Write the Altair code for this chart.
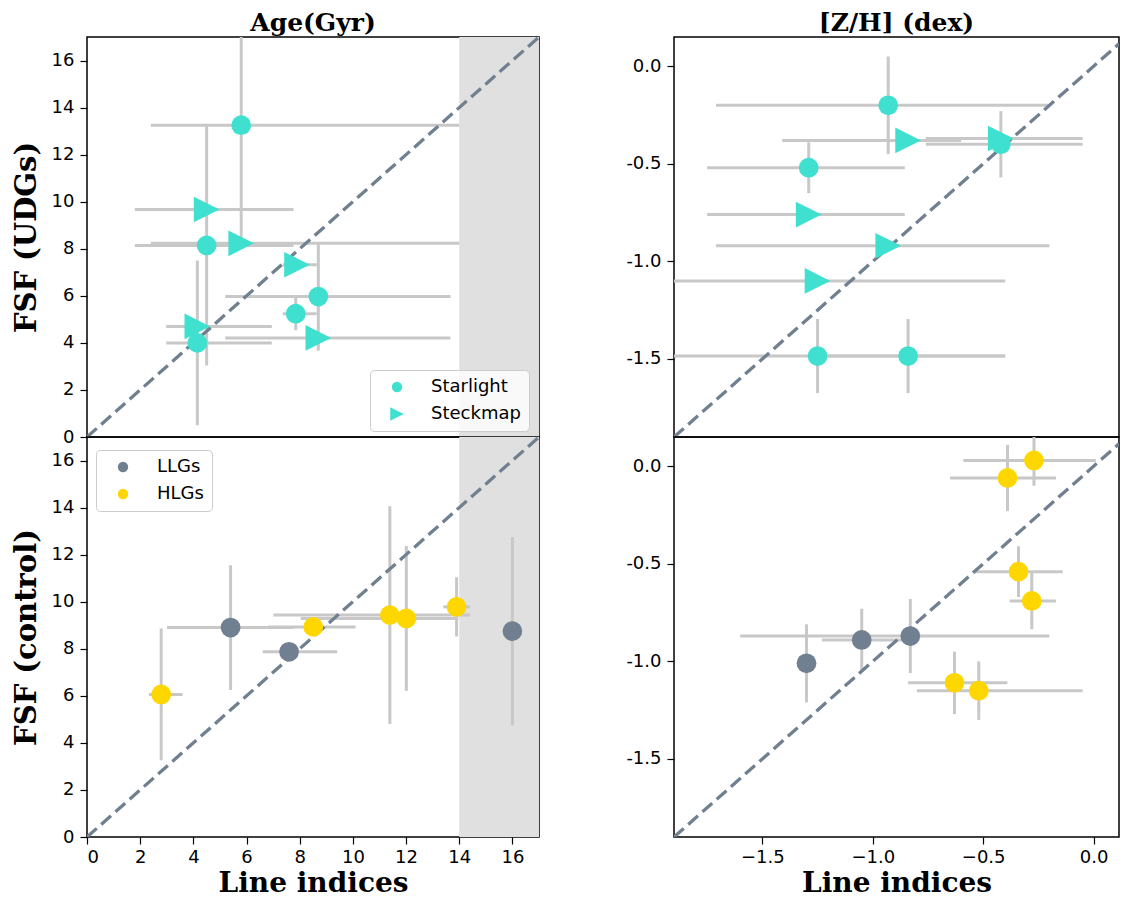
import altair as alt
import pandas as pd

TURQ = "#40E0D0"
SLATE = "#708090"
GOLD = "#FFD700"
ERR = "#c8c8c8"
SHADE = "#e0e0e0"
TRI = "M 1.3,0 L -1.3,1.3 L -1.3,-1.3 Z"

AGE_DOM = [0, 17]
SHADE_X = [14, 17]
ZH_X_DOM = [-1.9, 0.115]
ZH_Y_DOM = [-1.9, 0.15]
AGE_TICKS = [0, 2, 4, 6, 8, 10, 12, 14, 16]
ZH_TICKS = [-1.5, -1.0, -0.5, 0.0]

# ---- Age, UDGs ----
age_udg_sl_x = [5.8, 4.5, 4.15, 7.85, 8.7]
age_udg_sl_y = [13.25, 8.14, 4.0, 5.24, 5.97]
age_udg_sl_yerr = [4.9, 5.1, 3.5, 0.7, 2.3]
age_udg_sl_xlo = [2.4, 1.8, 2.98, 7.36, 5.2]
age_udg_sl_xhi = [14.0, 7.77, 6.95, 8.64, 13.67]

age_udg_sm_x = [5.8, 4.5, 4.15, 7.9, 8.7]
age_udg_sm_y = [8.23, 9.67, 4.7, 7.32, 4.21]
age_udg_sm_yerr = [0, 0, 0, 0, 0]
age_udg_sm_xlo = [2.4, 1.8, 2.98, 7.36, 5.2]
age_udg_sm_xhi = [14.0, 7.77, 6.95, 8.64, 13.67]

# ---- [Z/H], UDGs ----
zh_udg_sl_x = [-0.93, -0.42, -1.29, -1.25, -0.84]
zh_udg_sl_y = [-0.20, -0.40, -0.52, -1.485, -1.485]
zh_udg_sl_yerr = [0.25, 0.17, 0.13, 0.19, 0.19]
zh_udg_sl_xlo = [-1.71, -0.76, -1.75, -1.95, -1.25]
zh_udg_sl_xhi = [-0.205, -0.05, -0.855, -0.40, -0.40]

zh_udg_sm_x = [-0.93, -0.42, -1.29, -1.25, -0.84]
zh_udg_sm_y = [-0.92, -0.37, -0.76, -1.10, -0.38]
zh_udg_sm_yerr = [0, 0, 0, 0, 0]
zh_udg_sm_xlo = [-1.71, -0.76, -1.75, -1.95, -1.41]
zh_udg_sm_xhi = [-0.20, -0.05, -0.855, -0.40, -0.60]

# ---- Age, control ----
age_ctl_llg_x = [5.40, 7.60, 16.0]
age_ctl_llg_y = [8.90, 7.87, 8.75]
age_ctl_llg_yerr = [2.65, 0.3, 4.0]
age_ctl_llg_xlo = [3.01, 6.61, 16.0]
age_ctl_llg_xhi = [7.8, 9.41, 16.0]

age_ctl_hlg_x = [2.79, 8.51, 11.39, 12.01, 13.9]
age_ctl_hlg_y = [6.06, 8.93, 9.43, 9.29, 9.78]
age_ctl_hlg_yerr = [2.8, 0.3, 4.63, 3.08, 1.26]
age_ctl_hlg_xlo = [2.33, 6.8, 7.01, 8.04, 13.4]
age_ctl_hlg_xhi = [3.6, 10.1, 14.41, 13.97, 14.41]

# ---- [Z/H], control ----
zh_ctl_llg_x = [-1.30, -1.05, -0.83]
zh_ctl_llg_y = [-1.01, -0.89, -0.87]
zh_ctl_llg_yerr = [0.20, 0.16, 0.19]
zh_ctl_llg_xlo = [-1.30, -1.23, -1.60]
zh_ctl_llg_xhi = [-1.30, -0.86, -0.20]

zh_ctl_hlg_x = [-0.27, -0.39, -0.34, -0.28, -0.63, -0.52]
zh_ctl_hlg_y = [0.03, -0.06, -0.54, -0.69, -1.11, -1.15]
zh_ctl_hlg_yerr = [0.13, 0.17, 0.13, 0.145, 0.16, 0.15]
zh_ctl_hlg_xlo = [-0.59, -0.65, -0.54, -0.38, -0.84, -0.80]
zh_ctl_hlg_xhi = [0.01, -0.17, -0.14, -0.17, -0.39, -0.05]


def frame(name, x, y, yerr, xlo, xhi):
    return pd.DataFrame({
        "series": [name] * len(x),
        "x": x, "y": y,
        "ylo": [a - b for a, b in zip(y, yerr)],
        "yhi": [a + b for a, b in zip(y, yerr)],
        "xlo": xlo, "xhi": xhi,
    })


df_age_udg = pd.concat([
    frame("Starlight", age_udg_sl_x, age_udg_sl_y, age_udg_sl_yerr, age_udg_sl_xlo, age_udg_sl_xhi),
    frame("Steckmap", age_udg_sm_x, age_udg_sm_y, age_udg_sm_yerr, age_udg_sm_xlo, age_udg_sm_xhi),
], ignore_index=True)
df_zh_udg = pd.concat([
    frame("Starlight", zh_udg_sl_x, zh_udg_sl_y, zh_udg_sl_yerr, zh_udg_sl_xlo, zh_udg_sl_xhi),
    frame("Steckmap", zh_udg_sm_x, zh_udg_sm_y, zh_udg_sm_yerr, zh_udg_sm_xlo, zh_udg_sm_xhi),
], ignore_index=True)
df_age_ctl = pd.concat([
    frame("LLGs", age_ctl_llg_x, age_ctl_llg_y, age_ctl_llg_yerr, age_ctl_llg_xlo, age_ctl_llg_xhi),
    frame("HLGs", age_ctl_hlg_x, age_ctl_hlg_y, age_ctl_hlg_yerr, age_ctl_hlg_xlo, age_ctl_hlg_xhi),
], ignore_index=True)
df_zh_ctl = pd.concat([
    frame("LLGs", zh_ctl_llg_x, zh_ctl_llg_y, zh_ctl_llg_yerr, zh_ctl_llg_xlo, zh_ctl_llg_xhi),
    frame("HLGs", zh_ctl_hlg_x, zh_ctl_hlg_y, zh_ctl_hlg_yerr, zh_ctl_hlg_xlo, zh_ctl_hlg_xhi),
], ignore_index=True)

LEG = dict(
    title=None, orient="none", labelFont="DejaVu Sans", labelFontSize=18,
    labelColor="black", padding=8, symbolOffset=10, labelOffset=25, rowPadding=9,
    strokeColor="#cccccc", fillColor="rgba(255,255,255,0.8)", cornerRadius=4,
    symbolSize=107, symbolStrokeWidth=0,
)


def udg_points(df, X, Y, legend):
    return alt.Chart(df).mark_point(filled=True, opacity=1, size=390, strokeWidth=0).encode(
        x=X("x"), y=Y("y"),
        shape=alt.Shape("series:N", scale=alt.Scale(domain=["Starlight", "Steckmap"], range=["circle", TRI]),
                        legend=legend),
        color=alt.value(TURQ),
    )


def ctl_points(df, X, Y, legend):
    return alt.Chart(df).mark_point(filled=True, opacity=1, size=390, shape="circle", strokeWidth=0).encode(
        x=X("x"), y=Y("y"),
        color=alt.Color("series:N", scale=alt.Scale(domain=["LLGs", "HLGs"], range=[SLATE, GOLD]),
                        legend=legend),
    )


def panel(df, xdom, ydom, w, h, xaxis, yaxis, points_fn, legend, shade=False, title=None):
    xs = alt.Scale(domain=xdom, nice=False, zero=False)
    ys = alt.Scale(domain=ydom, nice=False, zero=False)

    def X(f):
        return alt.X(f, type="quantitative", scale=xs, axis=xaxis)

    def Y(f):
        return alt.Y(f, type="quantitative", scale=ys, axis=yaxis)

    layers = []
    if shade:
        sdf = pd.DataFrame({"a": [SHADE_X[0]], "b": [SHADE_X[1]], "c": [ydom[0]], "d": [ydom[1]]})
        layers.append(alt.Chart(sdf).mark_rect(color=SHADE, opacity=1).encode(
            x=X("a"), x2="b", y=Y("c"), y2="d"))
    base = alt.Chart(df)
    layers.append(base.mark_rule(color=ERR, strokeWidth=3, clip=True).encode(
        x=X("xlo"), x2="xhi", y=Y("y")))
    layers.append(base.transform_filter("datum.yhi > datum.ylo").mark_rule(
        color=ERR, strokeWidth=3, clip=True).encode(x=X("x"), y=Y("ylo"), y2="yhi"))
    diag = pd.DataFrame({"d": [xdom[0], xdom[1]]})
    layers.append(alt.Chart(diag).mark_line(color=SLATE, strokeWidth=3.3, strokeDash=[13, 6], clip=True).encode(
        x=X("d"), y=Y("d")))
    layers.append(points_fn(df, X, Y, legend))
    ch = alt.layer(*layers).properties(width=w, height=h)
    if title:
        ch = ch.properties(title=alt.TitleParams(
            title, font="DejaVu Serif", fontWeight="bold", fontSize=25, anchor="middle",
            offset=1, color="black"))
    return ch


LW, RW, TH, BH = 452, 445, 400, 400

left_y_top = alt.Axis(values=AGE_TICKS, title="FSF (UDGs)", titlePadding=10)
left_y_bot = alt.Axis(values=AGE_TICKS, title="FSF (control)", titlePadding=10)
right_y = alt.Axis(values=ZH_TICKS, title=None,
                   labelExpr="datum.value == 0 ? '0.0' : '-' + format(-datum.value, '.1f')")
left_x_bot = alt.Axis(values=AGE_TICKS, title="Line indices", labelPadding=4, titlePadding=3,
                      titleFontSize=28)
right_x_bot = alt.Axis(values=ZH_TICKS, title="Line indices", labelPadding=4, titlePadding=3,
                       titleFontSize=28,
                       labelExpr="datum.value == 0 ? '0.0' : '\u2212' + format(-datum.value, '.1f')")

tl = panel(df_age_udg, AGE_DOM, AGE_DOM, LW, TH, None, left_y_top, udg_points,
           alt.Legend(legendX=283, legendY=333, symbolFillColor=TURQ, **LEG),
           shade=True, title="Age(Gyr)")
tr = panel(df_zh_udg, ZH_X_DOM, ZH_Y_DOM, RW, TH, None, right_y, udg_points, None,
           title="[Z/H] (dex)")
bl = panel(df_age_ctl, AGE_DOM, AGE_DOM, LW, BH, left_x_bot, left_y_bot, ctl_points,
           alt.Legend(legendX=9, legendY=13, **LEG), shade=True)
br = panel(df_zh_ctl, ZH_X_DOM, ZH_Y_DOM, RW, BH, right_x_bot, right_y, ctl_points, None)

chart = alt.concat(
    tl, tr, bl, br, columns=2, spacing={"row": 0, "column": 135}, bounds="flush", align="each"
).resolve_scale(
    shape="independent", color="independent"
).resolve_legend(
    shape="independent", color="independent"
).properties(
    padding={"left": 3, "top": 2, "right": 0, "bottom": 0}
).configure_view(
    stroke="black", strokeWidth=1.5
).configure_axis(
    labelFont="DejaVu Sans", labelFontSize=18, labelColor="black", tickColor="black",
    tickSize=7, tickWidth=1.2, domain=False, grid=False, labelPadding=6,
    titleFont="DejaVu Serif", titleFontWeight="bold", titleFontSize=29, titleColor="black"
)

chart.save("out.html", embed_options={"renderer": "svg", "actions": False})
